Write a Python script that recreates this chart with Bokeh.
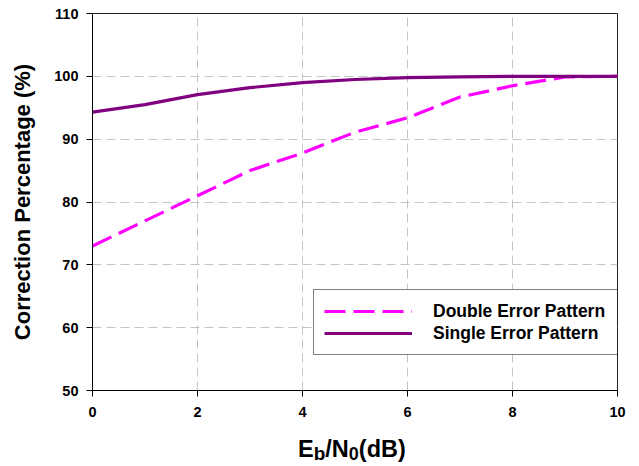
from bokeh.plotting import figure
from bokeh.models import Legend, LegendItem, FixedTicker, Div
from bokeh.layouts import column
from bokeh.embed import file_html
from bokeh.resources import INLINE

# ---- data ----
ebn0 = [0, 1, 2, 3, 4, 5, 6, 7, 8, 9, 10]
double_error = [73.0, 77.0, 81.0, 85.0, 87.8, 91.1, 93.4, 96.7, 98.5, 99.9, 100.0]
single_error = [94.3, 95.5, 97.1, 98.2, 99.0, 99.5, 99.8, 99.9, 100.0, 100.0, 100.0]
x_ticks = [0, 2, 4, 6, 8, 10]
y_ticks = [50, 60, 70, 80, 90, 100, 110]
series_names = ["Double Error Pattern", "Single Error Pattern"]
y_title = "Correction Percentage (%)"

FONT = "Liberation Sans"
X0, X1, Y0, Y1 = 0, 10, 50, 110
W, H = 639, 430
BL, BR, BT, BB = 92, 22, 13, 40
DIV_H = 36

p = figure(width=W, height=H, x_range=(X0, X1), y_range=(Y0, Y1),
           output_backend="svg", toolbar_location=None,
           min_border_left=BL, min_border_right=BR, min_border_top=BT, min_border_bottom=BB)
p.background_fill_color = "white"
p.border_fill_color = "white"
p.outline_line_color = "#222222"
p.outline_line_width = 1

for ax in (p.xaxis[0], p.yaxis[0]):
    ax.axis_line_color = "black"
    ax.major_tick_line_color = "black"
    ax.minor_tick_line_color = None
    ax.major_tick_in = 0
    ax.major_tick_out = 6
    ax.major_label_text_font = FONT
    ax.major_label_text_font_style = "bold"
    ax.major_label_text_font_size = "14.5px"
    ax.major_label_text_color = "black"

p.xaxis[0].ticker = FixedTicker(ticks=x_ticks)
p.yaxis[0].ticker = FixedTicker(ticks=y_ticks)
p.xaxis[0].major_label_standoff = 10
p.yaxis[0].major_label_standoff = 8

p.yaxis[0].axis_label = y_title
p.yaxis[0].axis_label_text_font = FONT
p.yaxis[0].axis_label_text_font_style = "bold"
p.yaxis[0].axis_label_text_font_size = "22px"
p.yaxis[0].axis_label_text_color = "black"
p.yaxis[0].axis_label_standoff = 16

p.xgrid.grid_line_color = "#c4c4c4"
p.xgrid.grid_line_dash = "9 5"
p.ygrid.grid_line_color = "#c4c4c4"
p.ygrid.grid_line_dash = "9 5"

r_double = p.line(ebn0, double_error, line_color="#FF00FF", line_width=3.2, line_dash="21 8")
r_single = p.line(ebn0, single_error, line_color="#800080", line_width=3.2)

legend = Legend(items=[LegendItem(label=series_names[0], renderers=[r_double]),
                       LegendItem(label=series_names[1], renderers=[r_single])],
                location=(221, 35), margin=0, padding=10, spacing=0,
                glyph_width=88, glyph_height=22, label_height=22, label_width=175,
                label_standoff=21,
                label_text_font=FONT, label_text_font_style="bold",
                label_text_font_size="17.5px", label_text_color="black",
                border_line_color="black", border_line_width=1,
                background_fill_color="white", background_fill_alpha=1)
p.add_layout(legend)

# x-axis title with subscripts, as real HTML text below the plot
sub = "position:relative; top:3px; font-size:19px;"
x_title_html = (
    f'<div style="position:absolute; left:298px; top:8px; white-space:nowrap; '
    f'font-family:\'{FONT}\'; font-weight:bold; font-size:23.5px; line-height:23px; color:black;">'
    f'E<span style="{sub}">b</span>/N<span style="{sub} font-size:18px;">0</span>(dB)</div>'
)
xtitle = Div(text=x_title_html, width=W, height=DIV_H, margin=0,
             styles={"position": "relative", "background": "white"})

layout = column(p, xtitle, spacing=0)
open("out.html", "w").write(file_html(layout, INLINE))
